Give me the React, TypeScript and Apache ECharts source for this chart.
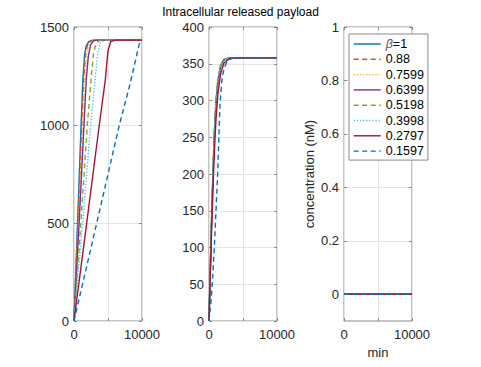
import React, { useEffect, useRef } from "react";
import * as echarts from "echarts";

// ---------- data ----------
const betaNames = ["β=1", "0.88", "0.7599", "0.6399", "0.5198", "0.3998", "0.2797", "0.1597"];
const titleText = "Intracellular released payload";
const yLabel3 = "concentration (nM)";
const xLabel3 = "min";

const xTicks = [0, 5000, 10000];
const xLabels = [0, 10000];
const y1Ticks = [0, 500, 1000, 1500];
const y2Ticks = [0, 50, 100, 150, 200, 250, 300, 350, 400];
const y3Ticks = [0, 0.2, 0.4, 0.6, 0.8, 1];

// panel 1 (time [min], amount)
const p1_b1000 = [[0, 0], [500, 480], [1000, 960], [1300, 1230], [1550, 1355], [1800, 1405], [2200, 1426], [2800, 1433], [10000, 1433]];
const p1_b0880 = [[0, 0], [550, 480], [1100, 960], [1420, 1230], [1700, 1362], [2000, 1410], [2450, 1428], [3000, 1433], [10000, 1433]];
const p1_b0760 = [[0, 0], [620, 480], [1250, 960], [1560, 1230], [1850, 1360], [2200, 1412], [2650, 1429], [3100, 1433], [10000, 1433]];
const p1_b0640 = [[0, 0], [750, 498], [1470, 1000], [1800, 1230], [2100, 1350], [2450, 1410], [2900, 1430], [3300, 1433], [10000, 1433]];
const p1_b0520 = [[0, 0], [1000, 498], [1960, 1000], [2500, 1230], [2850, 1360], [3250, 1418], [3800, 1433], [10000, 1433]];
const p1_b0400 = [[0, 0], [1270, 498], [2450, 1000], [3090, 1230], [3500, 1370], [3900, 1422], [4500, 1433], [10000, 1433]];
const p1_b0280 = [[0, 0], [1860, 498], [3720, 1000], [4600, 1230], [5000, 1380], [5400, 1425], [6000, 1433], [10000, 1433]];
const p1_b0160 = [[0, 0], [3330, 498], [6670, 1000], [8240, 1209], [9600, 1413], [10000, 1430]];

// panel 2
const p2_b1000 = [[0, 0], [200, 72], [400, 140], [600, 200], [800, 250], [1000, 288], [1300, 323], [1700, 345], [2200, 355], [3000, 358], [10000, 358]];
const p2_b0880 = [[0, 0], [200, 74], [400, 143], [600, 204], [800, 254], [1000, 291], [1300, 325], [1700, 346], [2200, 355], [3000, 358], [10000, 358]];
const p2_b0760 = [[0, 0], [200, 76], [400, 146], [600, 207], [800, 257], [1000, 294], [1300, 327], [1700, 347], [2200, 356], [3000, 358], [10000, 358]];
const p2_b0640 = [[0, 0], [200, 76], [400, 147], [600, 208], [800, 258], [1000, 295], [1300, 328], [1700, 347], [2200, 356], [3000, 358], [10000, 358]];
const p2_b0520 = [[0, 0], [200, 78], [400, 150], [600, 212], [800, 262], [1000, 298], [1300, 330], [1700, 348], [2200, 356], [3000, 358], [10000, 358]];
const p2_b0400 = [[0, 0], [200, 76], [400, 146], [600, 207], [800, 256], [1000, 293], [1300, 326], [1700, 346], [2200, 355], [3000, 358], [10000, 358]];
const p2_b0280 = [[0, 0], [200, 66], [400, 128], [600, 184], [800, 232], [1000, 270], [1300, 308], [1700, 336], [2200, 351], [3000, 357], [4000, 358], [10000, 358]];
const p2_b0160 = [[0, 0], [250, 22], [500, 52], [800, 103], [1270, 200], [1620, 295], [1900, 328], [2200, 343], [2600, 352], [3300, 357], [4500, 358], [10000, 358]];

// panel 3
const p3_all = [[0, 0], [10000, 0]];

const panel1 = [p1_b1000, p1_b0880, p1_b0760, p1_b0640, p1_b0520, p1_b0400, p1_b0280, p1_b0160];
const panel2 = [p2_b1000, p2_b0880, p2_b0760, p2_b0640, p2_b0520, p2_b0400, p2_b0280, p2_b0160];
const panel3 = [p3_all, p3_all, p3_all, p3_all, p3_all, p3_all, p3_all, p3_all];

// ---------- styles ----------
const colors = ["#0072BD", "#D95319", "#EDB120", "#7E2F8E", "#77AC30", "#4DBEEE", "#A2142F", "#0072BD"];
const dashes: any[] = ["solid", [5, 3.5], [1.3, 1.8], "solid", [5, 3.5], [1.3, 1.8], "solid", [5, 3.5]];
const FONT = "'Liberation Sans', Arial, Helvetica, sans-serif";
const AX = "#8a8a8a";
const TXT = "#262626";
const GRIDC = "#e4e4e4";

export default function App() {
  const ref = useRef<HTMLDivElement>(null);
  useEffect(() => {
    if (!ref.current) return;
    const chart = echarts.init(ref.current, undefined, { renderer: "svg" });

    const lefts = [74, 209, 344];
    const grids = lefts.map((l) => ({
      left: l, top: 27, width: 68, height: 294,
      show: true, borderColor: AX, borderWidth: 1, backgroundColor: "#fff",
    }));

    const yCfg = [
      { min: 0, max: 1500, ticks: y1Ticks },
      { min: 0, max: 400, ticks: y2Ticks },
      { min: -0.1, max: 1, ticks: y3Ticks },
    ];

    const fmt = (v: number) => String(v);

    const xAxes: any[] = [];
    const yAxes: any[] = [];
    for (let g = 0; g < 3; g++) {
      const xa: any = {
        gridIndex: g, type: "value", min: 0, max: 10000,
        axisLine: { show: false, onZero: false },
        axisTick: { inside: true, length: 3, lineStyle: { color: AX }, customValues: xTicks },
        axisLabel: {
          color: TXT, fontSize: 13, fontFamily: FONT, margin: 7,
          customValues: xLabels, formatter: fmt,
        },
        splitLine: { show: true, lineStyle: { color: GRIDC, width: 1 } },
      };
      if (g === 2) {
        xa.name = xLabel3;
        xa.nameLocation = "middle";
        xa.nameGap = 22;
        xa.nameTextStyle = { color: TXT, fontSize: 13, fontFamily: FONT };
      }
      xAxes.push(xa);
      xAxes.push({
        gridIndex: g, type: "value", position: "top", min: 0, max: 10000,
        axisLine: { show: false, onZero: false },
        axisTick: { inside: true, length: 3, lineStyle: { color: AX }, customValues: xTicks },
        axisLabel: { show: false },
        splitLine: { show: false },
      });
      const c = yCfg[g];
      const ya: any = {
        gridIndex: g, type: "value", min: c.min, max: c.max,
        axisLine: { show: false, onZero: false },
        axisTick: { inside: true, length: 3, lineStyle: { color: AX }, customValues: c.ticks },
        axisLabel: { color: TXT, fontSize: 13, fontFamily: FONT, margin: 5, customValues: c.ticks, formatter: fmt },
        splitLine: { show: true, lineStyle: { color: GRIDC, width: 1 } },
      };
      if (g === 2) {
        ya.name = yLabel3;
        ya.nameLocation = "middle";
        ya.nameGap = 28;
        ya.nameTextStyle = { color: TXT, fontSize: 13, fontFamily: FONT };
      }
      yAxes.push(ya);
      yAxes.push({
        gridIndex: g, type: "value", position: "right", min: c.min, max: c.max,
        axisLine: { show: false, onZero: false },
        axisTick: { inside: true, length: 3, lineStyle: { color: AX }, customValues: c.ticks },
        axisLabel: { show: false },
        splitLine: { show: false },
      });
    }

    const panels = [panel1, panel2, panel3];
    const series: any[] = [];
    panels.forEach((panel, g) => {
      panel.forEach((d, i) => {
        series.push({
          type: "line",
          name: betaNames[i],
          xAxisIndex: 2 * g,
          yAxisIndex: 2 * g,
          data: d,
          symbol: "none",
          showSymbol: false,
          lineStyle: { color: colors[i], width: 1.4, type: dashes[i] },
          itemStyle: { color: colors[i] },
          z: 2 + i,
        });
      });
    });

    chart.setOption({
      animation: false,
      backgroundColor: "#fff",
      title: {
        text: titleText, left: "center", top: 5, padding: 0,
        textStyle: { fontSize: 12, fontWeight: "normal", color: "#000", fontFamily: FONT, lineHeight: 13 },
      },
      grid: grids,
      xAxis: xAxes,
      yAxis: yAxes,
      legend: {
        data: betaNames,
        orient: "vertical",
        left: 349, top: 34,
        padding: [3, 4, 2, 4],
        itemWidth: 27, itemHeight: 14, itemGap: 1.3,
        backgroundColor: "#fff",
        borderColor: AX, borderWidth: 1,
        selectedMode: false,
        itemStyle: { opacity: 0, borderWidth: 0 },
        lineStyle: { width: 1.4 },
        textStyle: {
          fontSize: 12.5, fontFamily: FONT, color: "#000", lineHeight: 14,
          rich: { i: { fontStyle: "italic", fontSize: 12.5, fontFamily: FONT, color: "#555" } },
        },
        formatter: (n: string) => (n === "β=1" ? "{i|β}=1" : n),
        z: 20,
      },
      series,
    });
    return () => chart.dispose();
  }, []);
  return <div ref={ref} style={{ position: "absolute", left: 0, top: 0, width: 481, height: 367 }} />;
}
